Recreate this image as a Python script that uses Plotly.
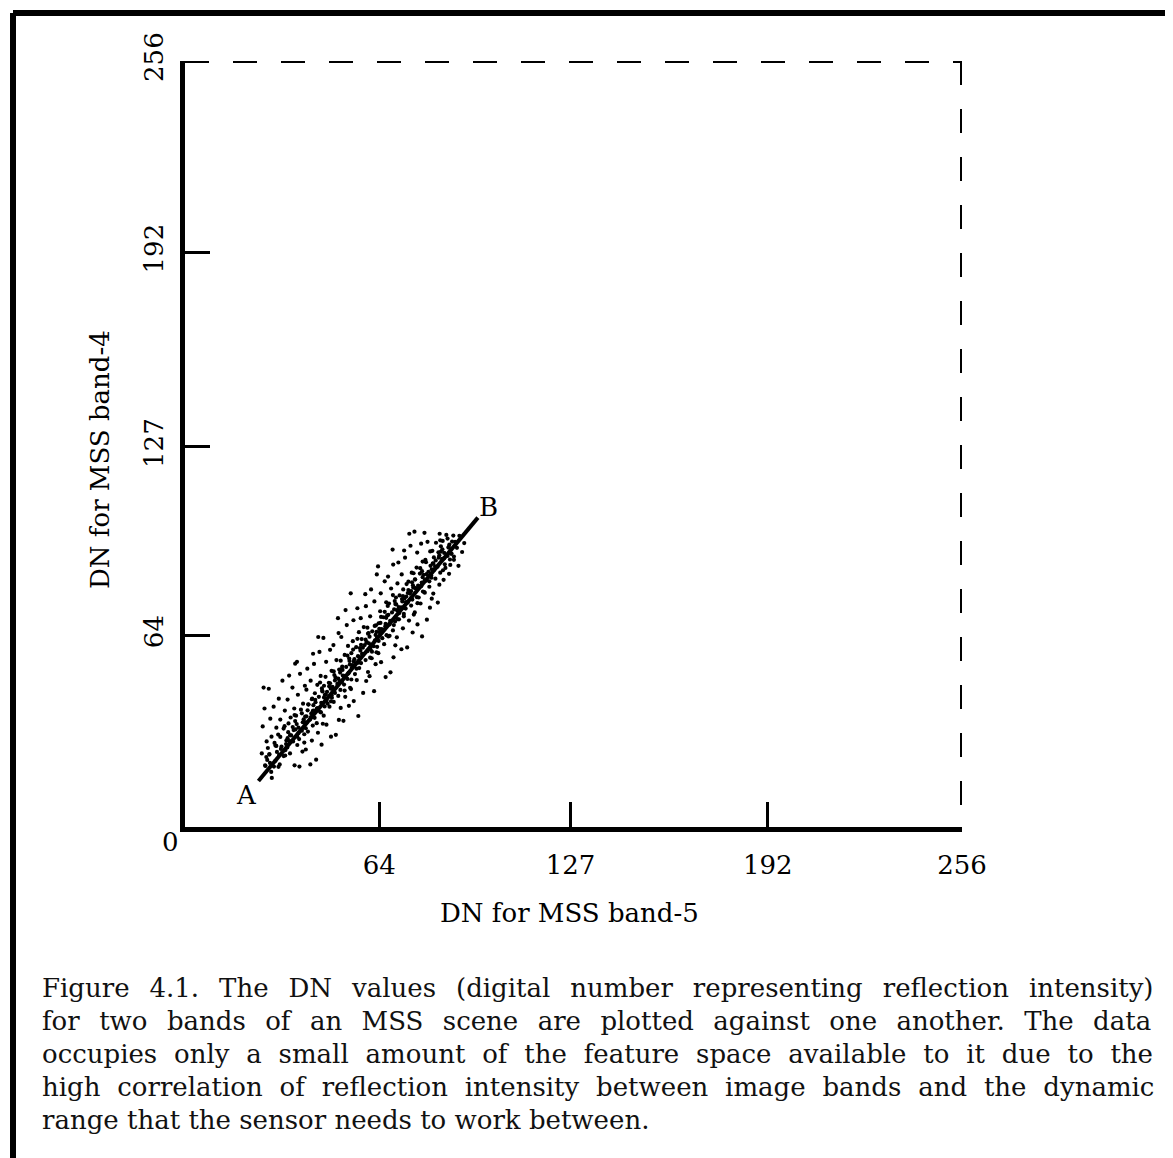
import plotly.graph_objects as go

# ---------------- data ----------------
tick_vals = [64, 127, 192, 256]
tick_text = ["64", "127", "192", "256"]

line_x = [24.2, 96.5]     # A -> B
line_y = [15.4, 103.4]

band5 = [
 26.4, 25.3, 26.9, 25.6, 26.2, 25.9,
 29.3, 27.8, 29.8, 28.5, 30.1, 28.1, 29.2, 27.6,
 31.2, 33.0, 31.8, 33.4, 30.7, 32.5, 31.4, 32.9, 30.9, 32.1,
 36.1, 34.6, 33.7, 35.6, 35.0, 36.4, 34.1, 34.8, 36.0, 33.8, 35.4, 34.3, 36.3,
 37.7, 38.7, 39.3, 37.0, 38.5, 37.4, 39.2, 36.6, 38.2, 38.9, 37.2, 39.5, 37.9, 36.9,
 41.3, 39.8, 41.8, 40.5, 42.1, 40.1, 41.2, 39.6, 41.6, 42.3, 40.7, 41.9, 40.0, 41.4, 40.3, 42.2,
 43.2, 45.0, 43.8, 45.4, 42.7, 44.5, 43.4, 44.9, 42.9, 44.1, 45.2, 43.6, 44.7, 42.5, 44.3, 43.9,
 48.1, 46.6, 45.7, 47.6, 47.0, 48.4, 46.1, 46.8, 48.0, 45.8, 47.4, 46.3, 48.3, 46.5, 47.8, 45.6,
 49.7, 50.7, 51.3, 49.0, 50.5, 49.4, 51.2, 48.6, 50.2, 50.9, 49.2, 51.5, 49.9, 48.9, 50.6, 50.4,
 52.2, 54.0, 52.8, 54.4, 51.7, 53.5, 52.4, 53.9, 51.9, 53.1, 54.2, 52.6, 53.7, 51.5, 53.3, 52.9,
 57.1, 55.6, 54.7, 56.6, 56.0, 57.4, 55.1, 55.8, 57.0, 54.8, 56.4, 55.3, 57.3, 55.5, 56.8, 54.6,
 58.7, 59.7, 60.3, 58.0, 59.5, 58.4, 60.2, 57.6, 59.2, 59.9, 58.2, 60.5, 58.9, 57.9, 59.6, 59.4,
 62.3, 60.8, 62.8, 61.5, 63.1, 61.1, 62.2, 60.6, 62.6, 63.3, 61.7, 62.9, 61.0, 62.4, 61.3, 63.2,
 66.1, 64.6, 63.7, 65.6, 65.0, 66.4, 64.1, 64.8, 66.0, 63.8, 65.4, 64.3, 66.3, 64.5, 65.8, 63.6,
 67.7, 68.7, 69.3, 67.0, 68.5, 67.4, 69.2, 66.6, 68.2, 68.9, 67.2, 69.5, 67.9, 66.9, 68.6, 68.4,
 71.3, 69.8, 71.8, 70.5, 72.1, 70.1, 71.2, 69.6, 71.6, 72.3, 70.7, 71.9, 70.0, 71.4, 70.3, 72.2,
 73.2, 75.0, 73.8, 75.4, 72.7, 74.5, 73.4, 74.9, 72.9, 74.1, 75.2, 73.6, 74.7, 72.5, 74.3, 73.9,
 78.1, 76.6, 75.7, 77.6, 77.0, 78.4, 76.1, 76.8, 78.0, 75.8, 77.4, 76.3, 78.3, 76.5, 77.8, 75.6,
 79.7, 80.7, 81.3, 79.0, 80.5, 79.4, 81.2, 78.6, 80.2, 80.9, 79.2, 81.5, 79.9, 78.9,
 83.3, 81.8, 83.8, 82.5, 84.1, 82.1, 83.2, 81.6, 83.6, 84.3, 82.7, 83.9,
 85.2, 87.0, 85.8, 87.4, 84.7, 86.5, 85.4, 86.9, 84.9, 86.1,
 90.1, 88.6, 87.7, 89.6, 89.0, 90.4,
 91.3, 92.0,
 26.8, 28.4, 27.3, 28.0, 26.5, 27.8, 28.6, 27.1,
 29.8, 31.4, 30.3, 31.0, 29.5, 30.8, 31.6, 30.1,
 32.8, 34.4, 33.3, 34.0, 32.5, 33.8, 34.6, 33.1,
 35.8, 37.4, 36.3, 37.0, 35.5, 36.8, 37.6, 36.1,
 38.8, 40.4, 39.3, 40.0, 38.5, 39.8, 40.6, 39.1,
 41.8, 43.4, 42.3, 43.0, 41.5, 42.8, 43.6, 42.1,
 44.8, 46.4, 45.3, 46.0, 44.5, 45.8, 46.6, 45.1,
 47.8, 49.4, 48.3, 49.0, 47.5, 48.8, 49.6, 48.1,
 50.8, 52.4, 51.3, 52.0, 50.5, 51.8, 52.6, 51.1,
 53.8, 55.4, 54.3, 55.0, 53.5, 54.8, 55.6, 54.1,
 56.8, 58.4, 57.3, 58.0, 56.5, 57.8, 58.6, 57.1,
 59.8, 61.4, 60.3, 61.0, 59.5, 60.8, 61.6, 60.1,
 62.8, 64.4, 63.3, 64.0, 62.5, 63.8, 64.6, 63.1,
 65.8, 67.4, 66.3, 67.0, 65.5, 66.8, 67.6, 66.1,
 68.8, 70.4, 69.3, 70.0, 68.5, 69.8, 70.6, 69.1,
 71.8, 73.4, 72.3, 73.0, 71.5, 72.8, 73.6, 72.1,
 74.8, 76.4, 75.3, 76.0, 74.5, 75.8, 76.6, 75.1,
 77.8, 79.4, 78.3, 79.0, 77.5, 78.8, 79.6, 78.1,
 80.8, 82.4, 81.3, 82.0, 80.5, 81.8, 82.6, 81.1,
 83.8, 85.4, 84.3, 85.0, 83.5, 84.8, 85.6, 84.1,
 86.8, 88.4, 87.3, 88.0, 86.5, 87.8, 88.6, 87.1,
]

band4 = [
 20.6, 24.6, 28.6, 33.6, 39.6, 46.6,
 20.2, 24.2, 27.2, 30.2, 33.2, 36.2, 40.2, 46.2,
 20.9, 23.9, 26.9, 28.9, 30.9, 32.9, 35.9, 38.9, 42.9, 48.9,
 20.6, 24.6, 26.6, 28.6, 30.6, 32.6, 34.6, 36.6, 39.6, 42.6, 46.6, 50.6, 54.6,
 20.2, 25.2, 28.2, 30.2, 32.2, 33.2, 35.2, 37.2, 39.2, 41.2, 44.2, 47.2, 51.2, 55.2,
 20.9, 25.9, 28.9, 31.9, 33.9, 34.9, 35.9, 36.9, 37.9, 38.9, 40.9, 42.9, 45.9, 48.9, 52.9, 57.9,
 22.5, 27.5, 31.5, 34.5, 36.5, 38.5, 39.5, 41.5, 42.5, 43.5, 45.5, 47.5, 50.5, 54.5, 58.5, 63.5,
 30.2, 34.2, 37.2, 40.2, 41.2, 43.2, 44.2, 45.2, 46.2, 47.2, 48.2, 50.2, 52.2, 55.2, 59.2, 63.2,
 30.8, 35.8, 39.8, 41.8, 43.8, 44.8, 45.8, 46.8, 47.8, 48.8, 50.8, 52.8, 55.8, 60.8, 64.8, 69.8,
 35.5, 40.5, 43.5, 46.5, 48.5, 49.5, 50.5, 51.5, 52.5, 53.5, 55.5, 57.5, 60.5, 63.5, 67.5, 72.5,
 37.1, 42.1, 46.1, 49.1, 51.1, 53.1, 54.1, 56.1, 57.1, 58.1, 60.1, 62.1, 65.1, 69.1, 73.1, 78.1,
 44.8, 48.8, 51.8, 54.8, 55.8, 57.8, 58.8, 59.8, 60.8, 61.8, 62.8, 64.8, 66.8, 69.8, 73.8, 77.8,
 45.4, 50.4, 54.4, 56.4, 58.4, 59.4, 60.4, 61.4, 62.4, 63.4, 65.4, 67.4, 70.4, 75.4, 79.4, 84.4,
 50.1, 55.1, 58.1, 61.1, 63.1, 64.1, 65.1, 66.1, 67.1, 68.1, 70.1, 72.1, 75.1, 78.1, 82.1, 87.1,
 51.7, 56.7, 60.7, 63.7, 65.7, 67.7, 68.7, 70.7, 71.7, 72.7, 74.7, 76.7, 79.7, 83.7, 87.7, 92.7,
 59.4, 63.4, 66.4, 69.4, 70.4, 72.4, 73.4, 74.4, 75.4, 76.4, 77.4, 79.4, 81.4, 84.4, 88.4, 92.4,
 60.0, 65.0, 69.0, 71.0, 73.0, 74.0, 75.0, 76.0, 77.0, 78.0, 80.0, 82.0, 85.0, 90.0, 94.0, 98.0,
 63.7, 67.7, 71.7, 74.7, 76.7, 78.7, 79.7, 80.7, 81.7, 82.7, 84.7, 86.7, 88.7, 91.7, 94.7, 98.7,
 69.3, 73.3, 76.3, 78.3, 80.3, 82.3, 83.3, 84.3, 85.3, 87.3, 89.3, 92.3, 95.3, 98.3,
 75.0, 78.0, 81.0, 83.0, 85.0, 86.0, 87.0, 88.0, 90.0, 92.0, 95.0, 98.0,
 82.6, 84.6, 86.6, 87.6, 89.6, 90.6, 91.6, 93.6, 95.6, 97.6,
 87.3, 89.3, 91.3, 93.3, 95.3, 97.3,
 91.9, 94.9,
 23.4, 18.4, 26.4, 21.4, 20.4, 24.4, 16.4, 22.4,
 22.1, 30.1, 25.1, 24.1, 28.1, 20.1, 26.1, 27.1,
 33.7, 28.7, 27.7, 31.7, 23.7, 29.7, 30.7, 25.7,
 32.4, 31.4, 35.4, 27.4, 33.4, 34.4, 29.4, 37.4,
 35.0, 39.0, 31.0, 37.0, 38.0, 33.0, 41.0, 36.0,
 42.7, 34.7, 40.7, 41.7, 36.7, 44.7, 39.7, 38.7,
 38.3, 44.3, 45.3, 40.3, 48.3, 43.3, 42.3, 46.3,
 48.0, 49.0, 44.0, 52.0, 47.0, 46.0, 50.0, 42.0,
 52.6, 47.6, 55.6, 50.6, 49.6, 53.6, 45.6, 51.6,
 51.3, 59.3, 54.3, 53.3, 57.3, 49.3, 55.3, 56.3,
 62.9, 57.9, 56.9, 60.9, 52.9, 58.9, 59.9, 54.9,
 61.6, 60.6, 64.6, 56.6, 62.6, 63.6, 58.6, 66.6,
 64.2, 68.2, 60.2, 66.2, 67.2, 62.2, 70.2, 65.2,
 71.9, 63.9, 69.9, 70.9, 65.9, 73.9, 68.9, 67.9,
 67.5, 73.5, 74.5, 69.5, 77.5, 72.5, 71.5, 75.5,
 77.2, 78.2, 73.2, 81.2, 76.2, 75.2, 79.2, 71.2,
 81.8, 76.8, 84.8, 79.8, 78.8, 82.8, 74.8, 80.8,
 80.5, 88.5, 83.5, 82.5, 86.5, 78.5, 84.5, 85.5,
 92.1, 87.1, 86.1, 90.1, 82.1, 88.1, 89.1, 84.1,
 90.8, 89.8, 93.8, 85.8, 91.8, 92.8, 87.8, 95.8,
 93.4, 97.4, 89.4, 95.4, 96.4, 91.4, 90.4, 94.4,
]

caption_lines = [
    "Figure 4.1. The DN values (digital number representing reflection intensity)",
    "for two bands of an MSS scene are plotted against one another. The data",
    "occupies only a small amount of the feature space available to it due to the",
    "high correlation of reflection intensity between image bands and the dynamic",
    "range that the sensor needs to work between.",
]
# extra inter-word spacing used to justify the first four caption lines
caption_gap = ["\u2005\u2009", "\u2004\u200a", "\u2004", "\u2004", ""]

# ---------------- figure ----------------
W, H = 1173, 1158
OFF = 8          # the page body adds an 8px margin around the figure
FONT = "DejaVu Serif"


def px(x):
    return (x - OFF) / W


def py(y):
    return 1 - (y - OFF) / H


fig = go.Figure()
fig.add_trace(go.Scatter(x=band5, y=band4, mode="markers",
                         marker=dict(size=4.2, color="black", line=dict(width=0)),
                         hoverinfo="skip", showlegend=False))
fig.add_trace(go.Scatter(x=line_x, y=line_y, mode="lines",
                         line=dict(color="black", width=4),
                         hoverinfo="skip", showlegend=False))

axis_common = dict(range=[0, 256], tickvals=tick_vals, ticktext=tick_text,
                   ticks="inside", ticklen=25, tickwidth=2.5, tickcolor="black",
                   showgrid=False, zeroline=False, showline=True, linewidth=5,
                   linecolor="black", automargin=False,
                   tickfont=dict(family=FONT, size=26, color="black"))

fig.update_layout(
    width=W, height=H, margin=dict(l=0, r=0, t=0, b=0, autoexpand=False),
    paper_bgcolor="white", plot_bgcolor="white", showlegend=False,
    xaxis=dict(domain=[px(185), px(962)], ticklabelstandoff=11, **axis_common),
    yaxis=dict(domain=[py(827), py(61)], tickangle=-90,
               ticklabelstandoff=7, **axis_common),
)

# dashed top and right edges of the feature space
fig.add_shape(type="line", xref="x", yref="y", x0=0, y0=256, x1=256, y1=256,
              line=dict(color="black", width=4, dash="24px,24px"))
fig.add_shape(type="line", xref="x", yref="y", x0=256, y0=256, x1=256, y1=0,
              line=dict(color="black", width=4, dash="24px,24px"))

# frame (top and left edges visible in the picture)
fig.add_shape(type="line", xref="paper", yref="paper", x0=px(13), y0=py(13),
              x1=1, y1=py(13), line=dict(color="black", width=6))
fig.add_shape(type="line", xref="paper", yref="paper", x0=px(13), y0=py(13),
              x1=px(13), y1=0, line=dict(color="black", width=6))

ann_font = dict(family=FONT, size=26, color="black")
common_ann = dict(showarrow=False, xanchor="center", yanchor="middle", font=ann_font)
fig.add_annotation(x=line_x[0] - 3.8, y=line_y[0] - 4.7, xref="x", yref="y",
                   text="A", **common_ann)
fig.add_annotation(x=line_x[1] + 3.4, y=line_y[1] + 3.5, xref="x", yref="y",
                   text="B", **common_ann)
fig.add_annotation(x=px(170), y=py(842), xref="paper", yref="paper", text="0",
                   **common_ann)
fig.add_annotation(x=px(569), y=py(913), xref="paper", yref="paper",
                   text="DN for MSS band-5", **common_ann)
fig.add_annotation(x=px(100), y=py(460), xref="paper", yref="paper",
                   text="DN for MSS band-4", textangle=-90, **common_ann)

cap_y = [988, 1021, 1054, 1087, 1120]
for txt, gap, yy in zip(caption_lines, caption_gap, cap_y):
    fig.add_annotation(x=px(40), y=py(yy), xref="paper", yref="paper",
                       text=txt.replace(" ", " " + gap),
                       xanchor="left", yanchor="middle", showarrow=False,
                       font=dict(family=FONT, size=26, color="#111"))

fig.write_html("out.html")
